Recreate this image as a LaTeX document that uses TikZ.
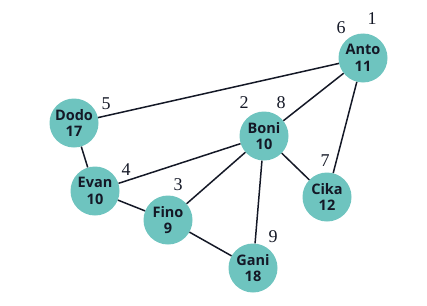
\documentclass[tikz,border=0pt]{standalone}
\usepackage{fontspec}
\newfontfamily\nodefont{Open Sans}
\newfontfamily\numfont{Liberation Serif}
\definecolor{teal1}{HTML}{6EC4BF}
\definecolor{ink}{HTML}{141826}
\begin{document}
\begin{tikzpicture}[x=1pt,y=-1pt,
  vert/.style={circle,fill=teal1,minimum size=49pt,inner sep=0pt,align=center,
    font=\nodefont\bfseries\fontsize{14.5}{16.5}\selectfont,text=ink},
  edge/.style={line width=1.5pt,ink},
  num/.style={font=\numfont\fontsize{18}{18}\selectfont,text=ink,inner sep=0pt}]
\useasboundingbox (0,0) rectangle (427,305);
\node[vert] (anto) at (363,58) {Anto\\11};
\node[vert] (boni) at (264,136) {Boni\\10};
\node[vert] (dodo) at (74,123) {Dodo\\17};
\node[vert] (evan) at (95,191) {Evan\\10};
\node[vert] (fino) at (168,220) {Fino\\9};
\node[vert] (cika) at (327,197) {Cika\\12};
\node[vert] (gani) at (253,268) {Gani\\18};
\draw[edge] (anto) -- (dodo);
\draw[edge] (anto) -- (boni);
\draw[edge] (anto) -- (cika);
\draw[edge] (dodo) -- (evan);
\draw[edge] (evan) -- (boni);
\draw[edge] (evan) -- (fino);
\draw[edge] (fino) -- (boni);
\draw[edge] (fino) -- (gani);
\draw[edge] (boni) -- (gani);
\draw[edge] (boni) -- (cika);
\node[num] (l1) at (372,19) {1};
\node[num] (l6) at (341,28) {6};
\node[num] (l2) at (244,103) {2};
\node[num] (l8) at (281,103) {8};
\node[num] (l5) at (106,104) {5};
\node[num] (l4) at (126,170) {4};
\node[num] (l3) at (178,185) {3};
\node[num] (l7) at (325,161) {7};
\node[num] (l9) at (273,237) {9};
\end{tikzpicture}
\end{document}
